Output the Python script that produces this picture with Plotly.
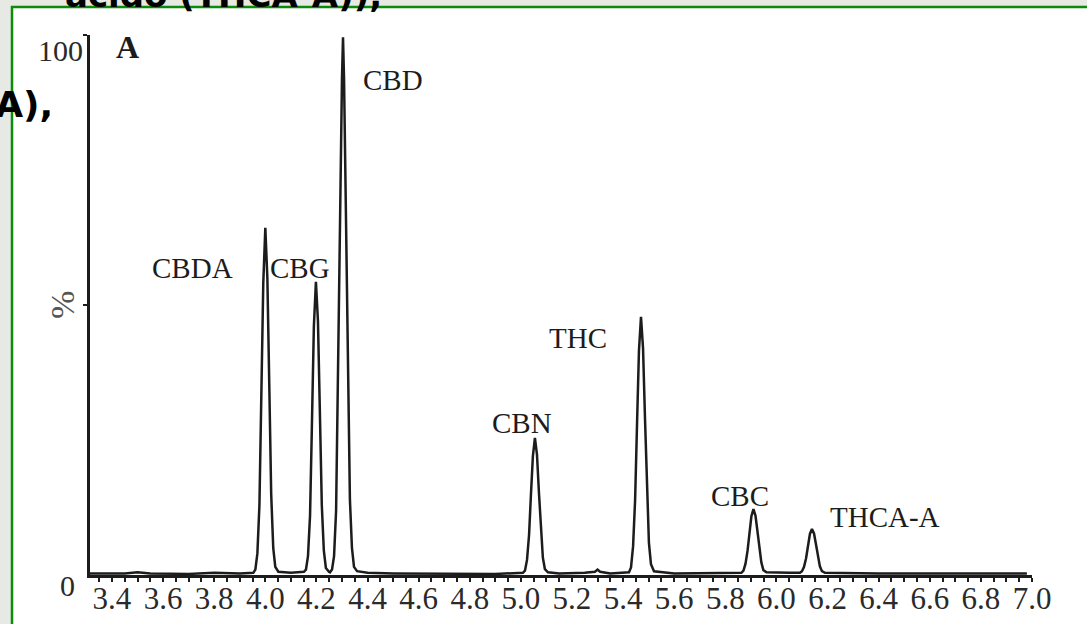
import plotly.graph_objects as go

# ---- data (retention time in min, relative abundance in %) ----
time_min = [
    3.314, 3.45, 3.50, 3.55, 3.70, 3.80, 3.90,
    3.953, 3.961, 3.969, 3.977, 3.984, 3.992, 4.000, 4.008, 4.016, 4.023, 4.031, 4.039, 4.051, 4.10,
    4.151, 4.159, 4.167, 4.175, 4.182, 4.190, 4.198, 4.206, 4.214, 4.221, 4.229, 4.237, 4.249,
    4.253, 4.261, 4.269, 4.277, 4.284, 4.292, 4.300, 4.304, 4.308, 4.316, 4.324, 4.331, 4.339, 4.347, 4.359,
    4.40, 4.50, 4.70, 4.90,
    5.008, 5.016, 5.024, 5.032, 5.039, 5.047, 5.055, 5.063, 5.071, 5.079, 5.086, 5.094, 5.106,
    5.15, 5.25, 5.29, 5.30, 5.31, 5.35,
    5.423, 5.431, 5.439, 5.447, 5.454, 5.462, 5.470, 5.478, 5.486, 5.494, 5.501, 5.509, 5.521,
    5.60, 5.75,
    5.863, 5.871, 5.879, 5.887, 5.894, 5.902, 5.910, 5.918, 5.926, 5.933, 5.941, 5.949, 5.961,
    6.05,
    6.092, 6.100, 6.108, 6.116, 6.123, 6.131, 6.139, 6.147, 6.155, 6.162, 6.170, 6.178, 6.190,
    6.40, 6.70, 6.98,
]
abundance_pct = [
    0.3, 0.3, 0.5, 0.3, 0.2, 0.4, 0.3,
    0.4, 1.0, 4.0, 13, 32, 54, 64.3, 55, 34, 15, 5, 1.5, 0.6, 0.4,
    0.6, 1.0, 3.5, 11, 27, 46, 54.3, 47, 29, 13, 4.5, 1.3, 0.6,
    0.5, 1.0, 3.5, 12, 33, 64, 92, 99.6, 92, 66, 36, 14, 5, 1.5, 0.7,
    0.4, 0.3, 0.3, 0.2,
    0.4, 0.8, 2.8, 7.4, 14.5, 22, 25.4, 22.3, 15, 8, 3.2, 1.1, 0.5,
    0.3, 0.4, 0.6, 1.0, 0.6, 0.3,
    0.5, 1.4, 5.3, 13.9, 27, 41.5, 47.8, 42, 28.5, 15, 6, 2, 0.7,
    0.3, 0.3,
    0.4, 0.8, 2.1, 4.5, 7.8, 10.9, 12.2, 11, 8, 4.8, 2.3, 0.9, 0.5,
    0.4,
    0.4, 0.7, 1.5, 3.1, 5.5, 7.6, 8.5, 7.7, 5.6, 3.3, 1.6, 0.7, 0.4,
    0.3, 0.3, 0.3,
]

peak_names = ["CBDA", "CBG", "CBD", "CBN", "THC", "CBC", "THCA-A"]

x_tick_vals = [3.4, 3.6, 3.8, 4.0, 4.2, 4.4, 4.6, 4.8, 5.0, 5.2, 5.4, 5.6, 5.8, 6.0, 6.2, 6.4, 6.6, 6.8, 7.0]
y_tick_labels = ["0", "100"]
panel_letter = "A"
y_title = "%"
bg_text_top = "ácido (THCA-A)),"
bg_text_left = "(CBDA),"

# ---- figure ----
W, H = 1087, 624
L, R, T, B = 90, 55, 35, 49
x_range = [3.314, 7.0]
y_range = [0, 100]

ink = "#1c1c1c"
serif = "Liberation Serif, Times New Roman, serif"
page_bg = "#e6e9e4"

fig = go.Figure()
fig.add_trace(go.Scatter(
    x=time_min, y=abundance_pct, mode="lines",
    line=dict(color=ink, width=2.5), hoverinfo="skip", showlegend=False,
))

def px_to_paper_x(px):
    return (px - L) / (W - L - R)

def px_to_paper_y(py):
    return (H - B - py) / (H - T - B)

# page background with green-framed white image area
fig.add_shape(type="rect", xref="paper", yref="paper",
              x0=px_to_paper_x(12), x1=px_to_paper_x(1120),
              y0=px_to_paper_y(660), y1=px_to_paper_y(7),
              fillcolor="white", line=dict(color="#0b8a0b", width=2.5), layer="below")

# peak labels (positions in pixels of the picture)
label_px = {
    "CBDA": (192, 268), "CBG": (300, 268), "CBD": (393, 80), "CBN": (522, 423),
    "THC": (578, 338), "CBC": (740, 496), "THCA-A": (885, 517),
}
for name in peak_names:
    px, py = label_px[name]
    fig.add_annotation(x=px_to_paper_x(px), y=px_to_paper_y(py), xref="paper", yref="paper",
                       text=name, showarrow=False, font=dict(family=serif, size=29, color=ink),
                       xanchor="center", yanchor="middle")

fig.add_annotation(x=px_to_paper_x(127), y=px_to_paper_y(47), xref="paper", yref="paper",
                   text=f"<b>{panel_letter}</b>", showarrow=False,
                   font=dict(family=serif, size=32, color=ink), xanchor="center", yanchor="middle")

# y tick labels (set slightly below their ticks as in the original)
for lab, (px, py) in zip(y_tick_labels, [(77, 585), (85, 50)]):
    fig.add_annotation(x=px_to_paper_x(px), y=px_to_paper_y(py), xref="paper", yref="paper",
                       text=lab, showarrow=False, font=dict(family=serif, size=30, color="#2a2a2a"),
                       xanchor="right", yanchor="middle")

fig.add_annotation(x=px_to_paper_x(62), y=px_to_paper_y(305), xref="paper", yref="paper",
                   text=y_title, textangle=-90, showarrow=False,
                   font=dict(family=serif, size=34, color="#555"), xanchor="center", yanchor="middle")

# background slide text fragments, cut by the window edges
fig.add_annotation(x=px_to_paper_x(384), y=px_to_paper_y(17), xref="paper", yref="paper",
                   text=f"<b>{bg_text_top}</b>", showarrow=False,
                   font=dict(family="DejaVu Sans", size=34, color="black"),
                   xanchor="right", yanchor="bottom")
fig.add_annotation(x=px_to_paper_x(55), y=px_to_paper_y(104), xref="paper", yref="paper",
                   text=f"<b>{bg_text_left}</b>", showarrow=False,
                   font=dict(family="DejaVu Sans", size=36, color="black"),
                   xanchor="right", yanchor="middle")

fig.update_xaxes(
    range=x_range, showgrid=False, zeroline=False, automargin=False,
    showline=True, linecolor=ink, linewidth=3,
    ticks="outside", tickcolor=ink, ticklen=4, tickwidth=1.5,
    tickvals=x_tick_vals, ticktext=[f"{v:.1f}" for v in x_tick_vals],
    tickfont=dict(family=serif, size=31, color="#2a2a2a"),
    ticklabelstandoff=-10,
    minor=dict(dtick=0.05, tick0=3.4, ticks="outside", ticklen=4, tickwidth=1.5, tickcolor=ink, showgrid=False),
)
fig.update_yaxes(
    range=y_range, showgrid=False, zeroline=False, automargin=False,
    showline=True, linecolor=ink, linewidth=2.5,
    ticks="outside", tickcolor=ink, ticklen=4, tickwidth=2,
    tickvals=[50, 100], showticklabels=False,
)

fig.update_layout(
    width=W, height=H,
    margin=dict(l=L, r=R, t=T, b=B, autoexpand=False),
    paper_bgcolor=page_bg, plot_bgcolor="white",
    showlegend=False,
)

fig.write_html(
    "out.html",
    config={"displayModeBar": False},
    post_script=f"document.body.style.margin='0';document.body.style.background='{page_bg}';",
)
